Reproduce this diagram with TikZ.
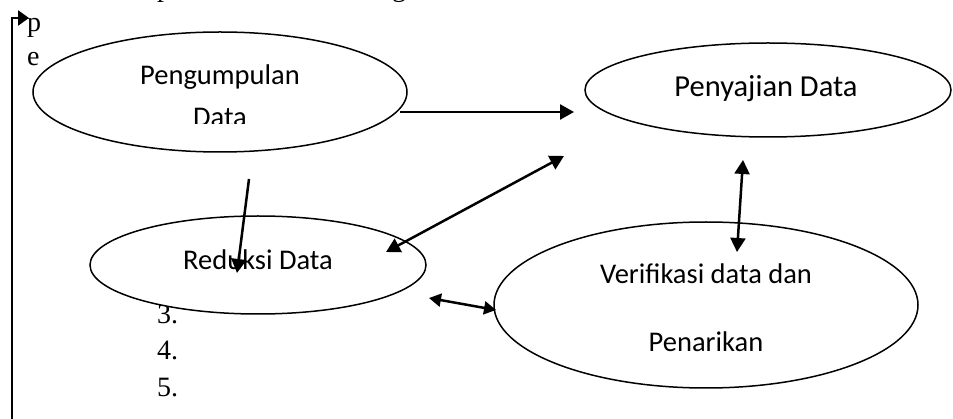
\documentclass[tikz,border=0pt]{standalone}
\usepackage{fontspec}
\setmainfont{Liberation Serif}
\newfontfamily\calib{Carlito}
\usetikzlibrary{shapes.geometric,arrows.meta}
\begin{document}
\begin{tikzpicture}[x=1pt,y=-1pt,
  oval/.style={draw,ellipse,fill=white,line width=1.5pt,inner sep=0pt},
  lbl/.style={font=\calib\fontsize{28.5}{34}\selectfont,anchor=base,inner sep=0pt},
  biglbl/.style={font=\calib\fontsize{30.5}{36}\selectfont,anchor=base,inner sep=0pt},
  num/.style={font=\fontsize{28}{33}\selectfont,anchor=base west,inner sep=0pt},
  arr/.style={line width=2.5pt,-{Triangle[length=14pt,width=15pt]}},
  darr/.style={line width=2.5pt,{Triangle[length=14pt,width=15pt]}-{Triangle[length=14pt,width=15pt]}},
  sdarr/.style={line width=2.5pt,{Triangle[length=12pt,width=13pt]}-{Triangle[length=12pt,width=13pt]}}]
\useasboundingbox (0,0) rectangle (953,419);
\fill[white] (0,0) rectangle (953,419);

% clipped line of text above the picture
\begin{scope}
  \clip (0,0) rectangle (953,419);
  \node[num] (topp) at (157,-3) {p};
  \node[num] (topg) at (392,-3) {g};
\end{scope}

% numbered list behind the ovals
\node[num] (n3) at (157,324) {3.};
\node[num] (n4) at (157,360) {4.};
\node[num] (n5) at (157,396) {5.};

% left bracket arrow
\coordinate (lb) at (12,421);
\coordinate (lt) at (12,18);
\coordinate (la) at (29,18);
\draw[line width=2.5pt,-{Triangle[length=11pt,width=15pt]}] (lb) -- (lt) -- (la);
\node[num] (pp) at (27,32) {p};
\node[num] (pe) at (27,66) {e};

% ovals
\node[oval,minimum width=374pt,minimum height=120pt] (kump) at (220,92) {};
\node[oval,minimum width=366pt,minimum height=94pt] (saji) at (768,90) {};
\node[oval,minimum width=336pt,minimum height=98pt] (red) at (258,265) {};
\node[oval,minimum width=424pt,minimum height=166pt] (ver) at (706,305) {};

% labels
\node[lbl] (tkump) at (220,85) {Pengumpulan};
\begin{scope}
  \clip (0,0) rectangle (953,124);
  \node[lbl] (tdata) at (220,127) {Data};
\end{scope}
\node[biglbl] (tsaji) at (766,97) {Penyajian Data};
\node[lbl] (tred) at (258,270) {Reduksi Data};
\node[lbl] (tver1) at (706,284) {Verifikasi data dan};
\node[lbl] (tver2) at (706,352) {Penarikan};

% connectors
\coordinate (a1s) at (400,112);
\coordinate (a1e) at (574,112);
\draw[arr] (a1s) -- (a1e);

\coordinate (a2s) at (386,252);
\coordinate (a2e) at (564,156);
\draw[darr] (a2s) -- (a2e);

\coordinate (a3s) at (249,179);
\coordinate (a3e) at (237,273);
\draw[arr] (a3s) -- (a3e);

\coordinate (a4s) at (429,298);
\coordinate (a4e) at (496,310);
\draw[sdarr] (a4s) -- (a4e);

\coordinate (a5s) at (743,160);
\coordinate (a5e) at (737,252);
\draw[darr] (a5s) -- (a5e);
\end{tikzpicture}
\end{document}
